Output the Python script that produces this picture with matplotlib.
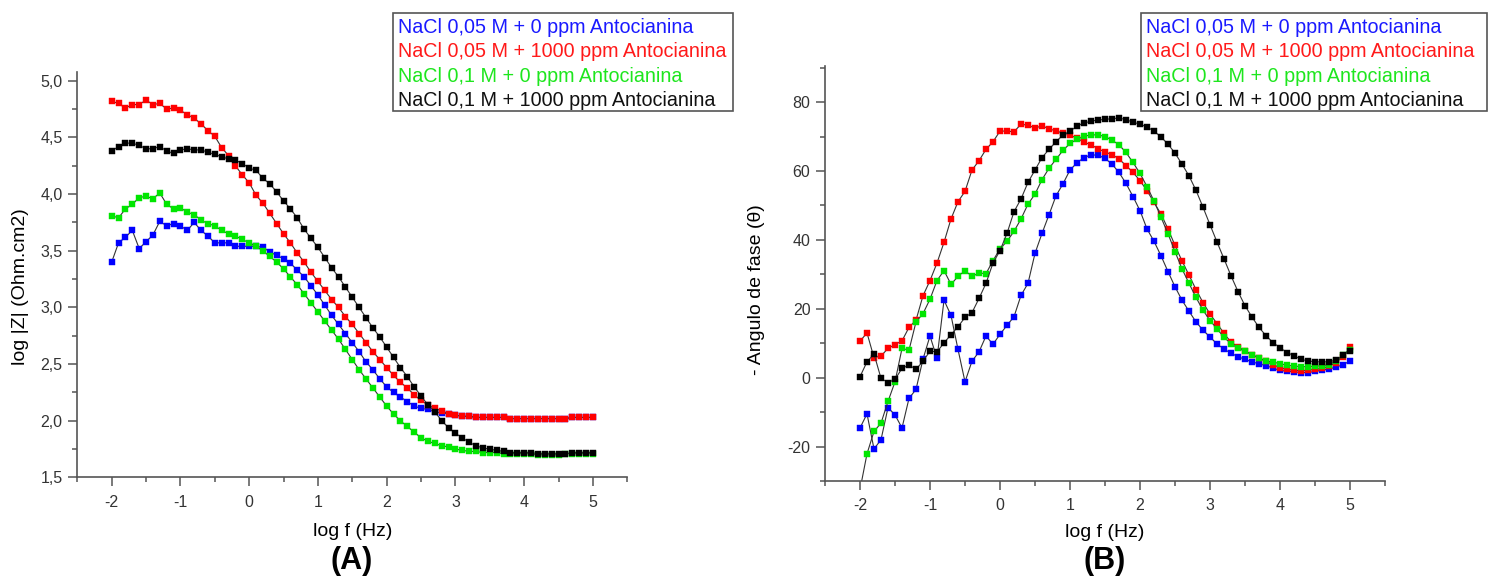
import matplotlib
matplotlib.use("Agg")
import matplotlib.pyplot as plt
import matplotlib.patches as patches
from matplotlib.ticker import MultipleLocator, FuncFormatter

plt.rcParams['font.family'] = ['Liberation Sans', 'DejaVu Sans']
plt.rcParams['axes.unicode_minus'] = False

# frequency grid, 10 points per decade
log_f = [-2.0, -1.9, -1.8, -1.7, -1.6, -1.5, -1.4, -1.3, -1.2, -1.1,
         -1.0, -0.9, -0.8, -0.7, -0.6, -0.5, -0.4, -0.3, -0.2, -0.1,
         0.0, 0.1, 0.2, 0.3, 0.4, 0.5, 0.6, 0.7, 0.8, 0.9,
         1.0, 1.1, 1.2, 1.3, 1.4, 1.5, 1.6, 1.7, 1.8, 1.9,
         2.0, 2.1, 2.2, 2.3, 2.4, 2.5, 2.6, 2.7, 2.8, 2.9,
         3.0, 3.1, 3.2, 3.3, 3.4, 3.5, 3.6, 3.7, 3.8, 3.9,
         4.0, 4.1, 4.2, 4.3, 4.4, 4.5, 4.6, 4.7, 4.8, 4.9, 5.0]

labels = ['NaCl 0,05 M + 0 ppm Antocianina',
          'NaCl 0,05 M + 1000 ppm Antocianina',
          'NaCl 0,1 M + 0 ppm Antocianina',
          'NaCl 0,1 M + 1000 ppm Antocianina']
colors = ['#0000ff', '#ff0000', '#00e600', '#000000']
text_colors = ['#1a1aff', '#ff1a1a', '#1ee61e', '#111111']

# log |Z| (Ohm.cm2)
z_nacl005_0 = [3.40, 3.57, 3.62, 3.68, 3.52, 3.58, 3.64, 3.76, 3.72, 3.74,
               3.72, 3.68, 3.75, 3.68, 3.63, 3.57, 3.57, 3.57, 3.54, 3.54,
               3.54, 3.54, 3.53, 3.49, 3.46, 3.43, 3.39, 3.33, 3.27, 3.19,
               3.11, 3.02, 2.93, 2.85, 2.77, 2.69, 2.61, 2.52, 2.45, 2.37,
               2.30, 2.25, 2.21, 2.17, 2.13, 2.11, 2.10, 2.08, 2.07, 2.06,
               2.05, 2.04, 2.04, 2.03, 2.03, 2.03, 2.03, 2.03, 2.02, 2.02,
               2.02, 2.02, 2.02, 2.02, 2.02, 2.02, 2.02, 2.03, 2.03, 2.03, 2.03]
z_nacl005_1000 = [4.82, 4.80, 4.76, 4.79, 4.79, 4.83, 4.79, 4.80, 4.75, 4.76,
                  4.74, 4.70, 4.67, 4.62, 4.56, 4.51, 4.41, 4.34, 4.25, 4.17,
                  4.10, 3.99, 3.92, 3.83, 3.74, 3.65, 3.57, 3.48, 3.40, 3.31,
                  3.23, 3.15, 3.07, 3.00, 2.92, 2.85, 2.77, 2.69, 2.61, 2.54,
                  2.47, 2.40, 2.34, 2.29, 2.23, 2.18, 2.14, 2.11, 2.09, 2.06,
                  2.05, 2.04, 2.04, 2.03, 2.03, 2.03, 2.03, 2.03, 2.02, 2.02,
                  2.02, 2.02, 2.02, 2.02, 2.02, 2.02, 2.02, 2.03, 2.03, 2.03, 2.03]
z_nacl01_0 = [3.81, 3.79, 3.87, 3.91, 3.97, 3.98, 3.96, 4.01, 3.91, 3.87,
              3.88, 3.84, 3.82, 3.77, 3.74, 3.72, 3.68, 3.65, 3.63, 3.60,
              3.57, 3.54, 3.50, 3.45, 3.40, 3.34, 3.27, 3.20, 3.12, 3.04,
              2.96, 2.88, 2.80, 2.72, 2.63, 2.54, 2.45, 2.37, 2.29, 2.21,
              2.13, 2.06, 2.00, 1.95, 1.90, 1.85, 1.82, 1.80, 1.78, 1.77,
              1.75, 1.74, 1.73, 1.73, 1.72, 1.72, 1.72, 1.71, 1.71, 1.71,
              1.71, 1.71, 1.70, 1.70, 1.70, 1.70, 1.71, 1.71, 1.71, 1.71, 1.71]
z_nacl01_1000 = [4.38, 4.42, 4.45, 4.45, 4.43, 4.40, 4.40, 4.42, 4.38, 4.36,
                 4.39, 4.40, 4.39, 4.39, 4.37, 4.35, 4.33, 4.31, 4.30, 4.27,
                 4.23, 4.21, 4.14, 4.09, 4.02, 3.94, 3.87, 3.79, 3.69, 3.61,
                 3.53, 3.44, 3.35, 3.27, 3.18, 3.09, 3.00, 2.91, 2.82, 2.74,
                 2.65, 2.56, 2.47, 2.39, 2.30, 2.22, 2.14, 2.08, 2.00, 1.94,
                 1.89, 1.85, 1.81, 1.78, 1.76, 1.75, 1.74, 1.73, 1.72, 1.72,
                 1.72, 1.72, 1.71, 1.71, 1.71, 1.71, 1.71, 1.72, 1.72, 1.72, 1.72]

# - phase angle (degrees)
ph_nacl005_0 = [-14.6, -10.5, -20.7, -18.0, -8.7, -10.8, -14.6, -6.0, -3.4, 5.4,
                12.1, 5.6, 22.5, 18.1, 8.2, -1.2, 4.8, 7.5, 12.1, 9.7,
                12.6, 15.2, 17.7, 23.9, 27.4, 36.1, 41.9, 47.3, 52.8, 56.3,
                60.3, 62.4, 63.9, 64.7, 64.6, 63.7, 62.0, 59.6, 56.4, 52.6,
                48.5, 43.2, 39.6, 35.4, 30.8, 26.4, 22.5, 19.3, 16.2, 13.8,
                11.8, 9.8, 8.3, 7.1, 6.1, 5.3, 4.6, 4.0, 3.5, 2.8,
                2.1, 1.9, 1.7, 1.5, 1.5, 1.8, 2.2, 2.5, 3.1, 3.7, 4.9]
ph_nacl005_1000 = [10.6, 13.0, 5.8, 6.3, 8.5, 9.6, 10.7, 14.6, 16.7, 23.8,
                   28.2, 33.3, 39.3, 46.1, 51.1, 54.1, 60.3, 63.0, 66.3, 68.5,
                   71.6, 71.6, 71.4, 73.6, 73.3, 72.5, 73.1, 72.3, 71.6, 71.1,
                   70.5, 69.5, 68.4, 67.6, 66.5, 65.5, 64.8, 63.5, 61.6, 59.6,
                   57.2, 54.3, 50.9, 47.5, 43.2, 38.4, 33.9, 29.8, 25.6, 21.8,
                   18.5, 15.7, 12.9, 10.3, 9.0, 7.8, 6.7, 5.6, 4.7, 3.8,
                   2.9, 2.4, 2.2, 2.0, 2.2, 2.4, 2.7, 3.3, 4.4, 6.1, 8.8]
ph_nacl01_0 = [-32.5, -22.1, -15.6, -13.2, -6.9, -1.2, 8.5, 8.0, 16.2, 18.6,
               22.8, 28.2, 31.1, 27.1, 29.4, 31.1, 29.4, 30.4, 30.2, 34.0,
               37.4, 39.6, 42.5, 46.1, 50.4, 53.3, 57.5, 60.8, 63.4, 66.0,
               68.0, 69.2, 70.1, 70.5, 70.5, 70.0, 69.0, 67.6, 65.4, 62.5,
               59.3, 55.5, 51.3, 46.6, 41.8, 36.6, 31.6, 27.4, 23.3, 19.6,
               16.6, 14.2, 11.7, 9.9, 8.5, 7.7, 6.7, 5.7, 4.9, 4.5,
               4.1, 3.6, 3.4, 3.2, 3.2, 3.4, 3.4, 3.8, 4.8, 6.5, 8.0]
ph_nacl01_1000 = [0.3, 4.6, 6.9, -0.2, -1.4, -0.5, 2.7, 3.7, 2.4, 4.8,
                  7.7, 7.5, 10.1, 12.5, 14.8, 17.5, 18.9, 23.0, 27.4, 33.3,
                  36.9, 41.9, 48.2, 51.9, 56.7, 60.3, 63.9, 66.3, 68.5, 70.5,
                  71.5, 73.1, 73.9, 74.5, 74.8, 75.0, 75.2, 75.4, 74.9, 74.2,
                  73.6, 72.8, 71.6, 69.9, 67.8, 65.2, 62.0, 58.6, 54.4, 49.5,
                  44.4, 39.4, 34.5, 29.6, 25.0, 20.9, 17.6, 14.6, 12.2, 10.2,
                  8.7, 7.3, 6.4, 5.3, 4.9, 4.6, 4.6, 4.6, 5.1, 6.5, 7.8]

AXIS_GRAY = '#555555'


def style_axes(ax):
    """Origin-like axes: only left/bottom spines, outward ticks"""
    for side in ('top', 'right'):
        ax.spines[side].set_visible(False)
    for side in ('left', 'bottom'):
        ax.spines[side].set_color(AXIS_GRAY)
        ax.spines[side].set_linewidth(1.2)
    ax.tick_params(which='both', direction='out', color=AXIS_GRAY,
                   labelcolor='#333333', labelsize=11.5, width=1.1)
    ax.tick_params(which='major', length=6.5)
    ax.tick_params(which='minor', length=3.5)
    ax.tick_params(axis='x', pad=6)
    ax.tick_params(axis='y', pad=4)
    ax.set_xlim(-2.5, 5.5)
    ax.xaxis.set_major_locator(MultipleLocator(1))
    ax.xaxis.set_minor_locator(MultipleLocator(0.5))
    ax.set_xlabel('log f (Hz)', fontsize=14)
    ax.xaxis.label.set_verticalalignment('center')


def draw_series(ax, series):
    for ys, c in zip(series, colors):
        ax.plot(log_f, ys, color='#333333', linewidth=0.8,
                marker='s', markersize=4.4, markerfacecolor=c,
                markeredgecolor=c, markeredgewidth=0.3)


def draw_legend(fig, x0, y0, w, h):
    """Text-only legend box in figure pixels (origin top-left)"""
    W, H = 1488.0, 576.0
    box = patches.Rectangle((x0 / W, 1 - (y0 + h) / H), w / W, h / H,
                            transform=fig.transFigure, facecolor='white',
                            edgecolor='#555555', linewidth=1.2)
    fig.patches.append(box)
    for k, (lab, tc) in enumerate(zip(labels, text_colors)):
        fig.text((x0 + 5) / W, 1 - (y0 + 14.5 + 24.4 * k) / H, lab,
                 color=tc, fontsize=14.2, ha='left', va='center')


fig = plt.figure(figsize=(14.88, 5.76), dpi=100)

# (A) impedance modulus
axA = fig.add_axes([0.05195, 0.17101, 0.36962, 0.70451])
style_axes(axA)
draw_series(axA, [z_nacl005_0, z_nacl005_1000, z_nacl01_0, z_nacl01_1000])
axA.set_ylim(1.5, 5.08)
axA.yaxis.set_major_locator(MultipleLocator(0.5))
axA.yaxis.set_minor_locator(MultipleLocator(0.25))
axA.yaxis.set_major_formatter(FuncFormatter(lambda v, p: f'{v:.1f}'.replace('.', ',')))
axA.set_ylabel('log |Z| (Ohm.cm2)', fontsize=14)
axA.yaxis.label.set_verticalalignment('center')
axA.yaxis.set_label_coords(-0.103, 0.47)
axA.xaxis.set_label_coords(0.5, -0.134)

# (B) phase angle
axB = fig.add_axes([0.55444, 0.16493, 0.37634, 0.72049])
style_axes(axB)
draw_series(axB, [ph_nacl005_0, ph_nacl005_1000, ph_nacl01_0, ph_nacl01_1000])
axB.set_ylim(-30, 90.5)
axB.yaxis.set_major_locator(MultipleLocator(20))
axB.yaxis.set_minor_locator(MultipleLocator(10))
axB.yaxis.set_major_formatter(FuncFormatter(lambda v, p: f'{v:.0f}'))
axB.set_ylabel('- Angulo de fase (θ)', fontsize=14)
axB.yaxis.label.set_verticalalignment('center')
axB.yaxis.set_label_coords(-0.123, 0.46)
axB.xaxis.set_label_coords(0.5, -0.123)

draw_legend(fig, 392.7, 12.7, 340.3, 98.3)
draw_legend(fig, 1141.0, 12.7, 345.5, 98.3)

fig.text(352 / 1488, 1 - 561 / 576, '(A)', fontsize=22, fontweight='bold',
         ha='center', va='center')
fig.text(1105 / 1488, 1 - 561 / 576, '(B)', fontsize=22, fontweight='bold',
         ha='center', va='center')

fig.savefig('out.png', dpi=100)
